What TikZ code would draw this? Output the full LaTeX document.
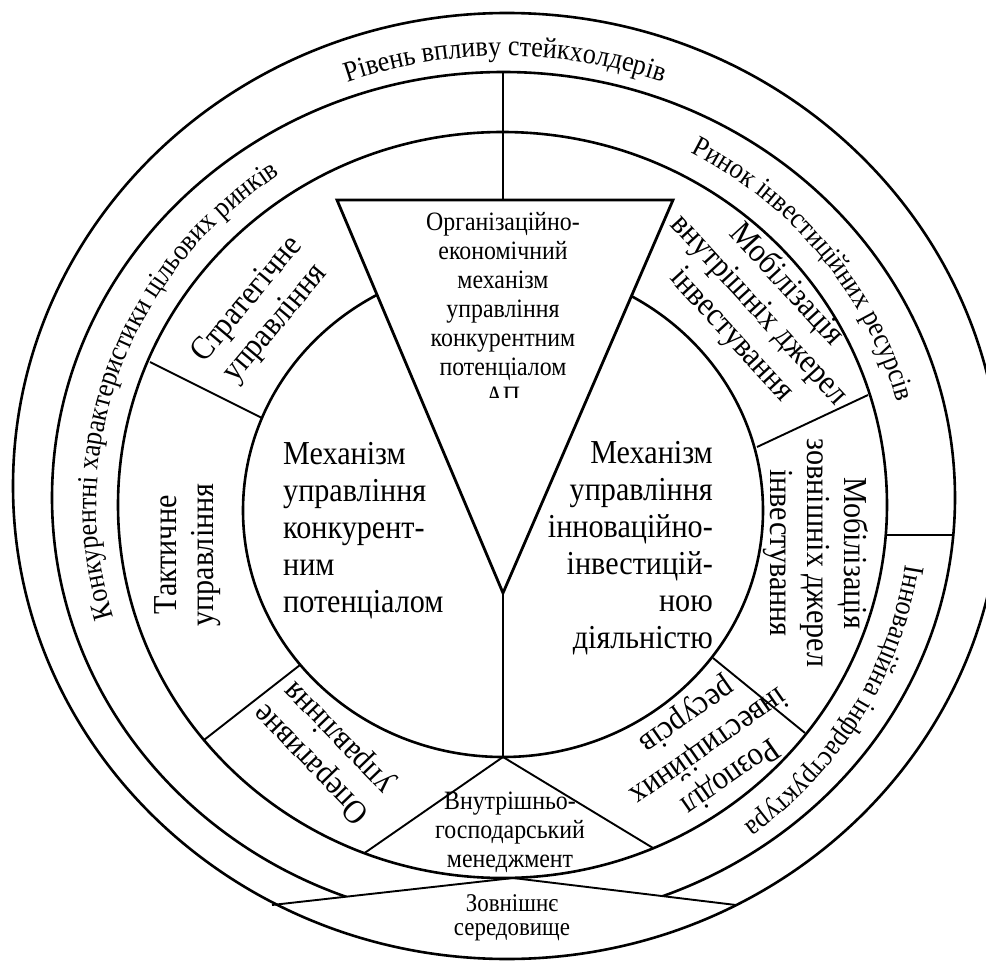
\documentclass[tikz,border=0pt]{standalone}
\usepackage{fontspec}
\setmainfont{Liberation Serif}[FakeStretch=0.9]
\usetikzlibrary{decorations.text}
\begin{document}
\begin{tikzpicture}[x=1pt,y=-1pt,
  ring/.style={line width=2.6pt},
  divider/.style={line width=1.9pt},
  bigtxt/.style={font=\fontsize{33.5}{37}\selectfont, inner sep=0pt},
  midtxt/.style={font=\fontsize{26.5}{29}\selectfont, inner sep=0pt, align=center},
  smalltxt/.style={font=\fontsize{25.5}{24}\selectfont, inner sep=0pt, align=center},
  bandtxt/.style={decorate, decoration={text along path, text align=center,
     text={|\fontsize{29}{29}\selectfont|#1}}},
]
\useasboundingbox (0,0) rectangle (986,963);
\clip (0,0) rectangle (986,963);

% concentric rings
\draw[ring] (507,486) ellipse [x radius=494, y radius=473];
\begin{scope}
  \clip (-20,-20) -- (1006,-20) -- (1006,937.7) -- (513,878) -- (-20,937.7) -- cycle;
  \draw[ring] (503.5,497.7) ellipse [x radius=451.5, y radius=425.7];
\end{scope}
\draw[ring] (502.5,505) ellipse [x radius=384.5, y radius=373];
\draw[ring] (503,510.5) ellipse [x radius=260, y radius=246.5];

% key points
\coordinate (tl) at (337,200);
\coordinate (tr) at (673,200);
\coordinate (tip) at (503,593);
\coordinate (ttop) at (503,200);
\coordinate (ringtop) at (503,72.3);
\coordinate (corebot) at (503,757);
\coordinate (apex) at (513,878);
\coordinate (vleft) at (272,905);
\coordinate (vright) at (736,905);

% central triangle
\draw[line width=2.8pt, fill=white] (tl) -- (tr) -- (tip) -- cycle;

% dividers
\draw[divider] (ringtop) -- (ttop);
\draw[divider] (tip) -- (corebot);
\draw[divider] (150,362) coordinate (s1) -- (262,418) coordinate (s2);
\draw[divider] (300,665) coordinate (t1) -- (204,740) coordinate (t2);
\draw[divider] (corebot) -- (364.6,853) coordinate (o2);
\draw[divider] (corebot) -- (653,848) coordinate (r2);
\draw[divider] (713,658) coordinate (z1) -- (805,733) coordinate (z2);
\draw[divider] (757,447) coordinate (m1) -- (868,395) coordinate (m2);
\draw[divider] (886,535) coordinate (h1) -- (953.5,535) coordinate (h2);
\draw[divider] (vleft) -- (apex) -- (vright);

% inner texts
\node[bigtxt, align=left, anchor=west] (mechcp) at (283,531)
  {Механізм\\управління\\конкурент-\\ним\\потенціалом};
\node[bigtxt, align=right, anchor=east] (mechii) at (713,548)
  {Механізм\\управління\\інноваційно-\\інвестицій-\\ною\\діяльністю};
\begin{scope}
  \clip (330,195) rectangle (680,397);
  \node[midtxt] (orgmech) at (503,308)
    {Організаційно-\\економічний\\механізм\\управління\\конкурентним\\потенціалом\\АП};
\end{scope}

% management ring texts
\node[bigtxt, align=center, rotate=50] (strat) at (262,312) {Стратегічне\\управління};
\node[bigtxt, align=center, rotate=90] (takt) at (188,555) {Тактичне\\управління};
\node[bigtxt, align=center, rotate=134] (oper) at (326,750) {Оперативне\\управління};
\node[midtxt] (vnutr) at (510,832) {Внутрішньо-\\господарський\\менеджмент};
\node[bigtxt, align=center, rotate=215] (rozp) at (708,745) {Розподіл\\інвестиційних\\ресурсів};
\node[bigtxt, align=center, rotate=-90] (mobz) at (816,553) {Мобілізація\\зовнішніх джерел\\інвестування};
\node[bigtxt, align=center, rotate=-47.5] (mobv) at (759,310) {Мобілізація\\внутрішніх джерел\\інвестування};

% outer ring texts
\node[smalltxt] (zovn) at (512,918) {Зовнішнє\\середовище};
\path[bandtxt={Рівень впливу стейкхолдерів}]
  (505,492) ++(230:462 and 436) arc[start angle=230, end angle=310, x radius=462, y radius=436];
\path[bandtxt={Конкурентні характеристики цільових ринків}]
  (502.5,505) ++(145:406 and 395) arc[start angle=145, end angle=255, x radius=406, y radius=395];
\path[bandtxt={Ринок інвестиційних ресурсів}]
  (502.5,505) ++(-82:408 and 397) arc[start angle=-82, end angle=5, x radius=408, y radius=397];
\path[bandtxt={Інноваційна інфраструктура}]
  (502.5,505) ++(-9:408 and 397) arc[start angle=-9, end angle=71, x radius=408, y radius=397];
\end{tikzpicture}
\end{document}
